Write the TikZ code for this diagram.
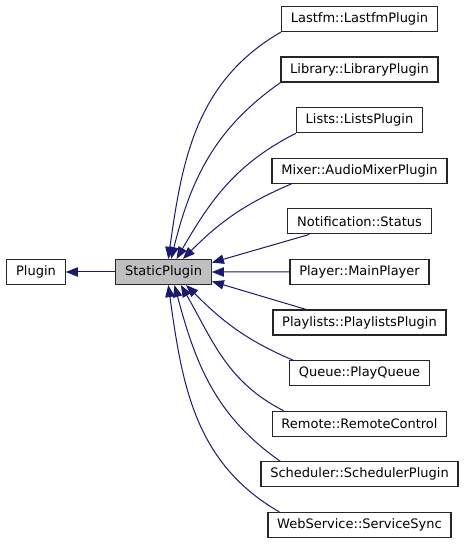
\documentclass[tikz,border=0pt]{standalone}
\usepackage{fontspec}
\setmainfont{DejaVu Sans}
\usetikzlibrary{arrows.meta}

\definecolor{edgeblue}{HTML}{191970}
\definecolor{basegrey}{HTML}{BFBFBF}

\tikzset{
  classbox/.style={draw=black!85, line width=0.9pt, fill=white,
    minimum height=18.75pt, inner xsep=7pt, inner ysep=0pt,
    font=\fontsize{9.75}{11}\selectfont},
  inherit/.style={draw=edgeblue, line width=0.75pt,
    -{Triangle[length=9pt,width=7pt]}}
}

\begin{document}
\begin{tikzpicture}[x=0.75pt,y=0.75pt]

\useasboundingbox (0,0) rectangle (464,544);

% -------------------------------------------------
% Classes de base
% -------------------------------------------------
\node[classbox] (plugin) at (36,272) {Plugin};
\node[classbox, fill=basegrey] (static) at (163.5,272) {StaticPlugin};

% -------------------------------------------------
% Classes derivees
% -------------------------------------------------
\foreach \name/\txt [count=\i] in {
    lastfm/Lastfm::LastfmPlugin,
    library/Library::LibraryPlugin,
    lists/Lists::ListsPlugin,
    mixer/Mixer::AudioMixerPlugin,
    notif/Notification::Status,
    player/Player::MainPlayer,
    playlists/Playlists::PlaylistsPlugin,
    queue/Queue::PlayQueue,
    remote/Remote::RemoteControl,
    scheduler/Scheduler::SchedulerPlugin,
    websvc/WebService::ServiceSync}
  \node[classbox] (\name) at (359.5,575.6-50.6*\i) {\txt};

% -------------------------------------------------
% Heritage
% -------------------------------------------------
\draw[inherit] (static) -- (plugin);

\draw[inherit] (lastfm.south west) to[out=210, in=82] (static.70);
\draw[inherit] (library.south west) to[out=215, in=76] (static.60);
\draw[inherit] (lists.south west) to[out=207, in=60] (static.45);
\draw[inherit] ([xshift=15pt]mixer.south west) to[out=203, in=45] (static.34);
\draw[inherit] ([xshift=16.5pt]notif.south west) -- (static.11);
\draw[inherit] (player) -- (static);
\draw[inherit] ([xshift=25.5pt]playlists.north west) -- (static.-11);
\draw[inherit] ([xshift=3pt]queue.north west) to[out=157, in=-45] (static.-30);
\draw[inherit] ([xshift=9pt]remote.north west) to[out=153, in=-60] (static.-37);
\draw[inherit] ([xshift=15pt]scheduler.north west) to[out=145, in=-75] (static.-50);
\draw[inherit] ([xshift=9pt]websvc.north west) to[out=150, in=-82] (static.-70);

\end{tikzpicture}
\end{document}
